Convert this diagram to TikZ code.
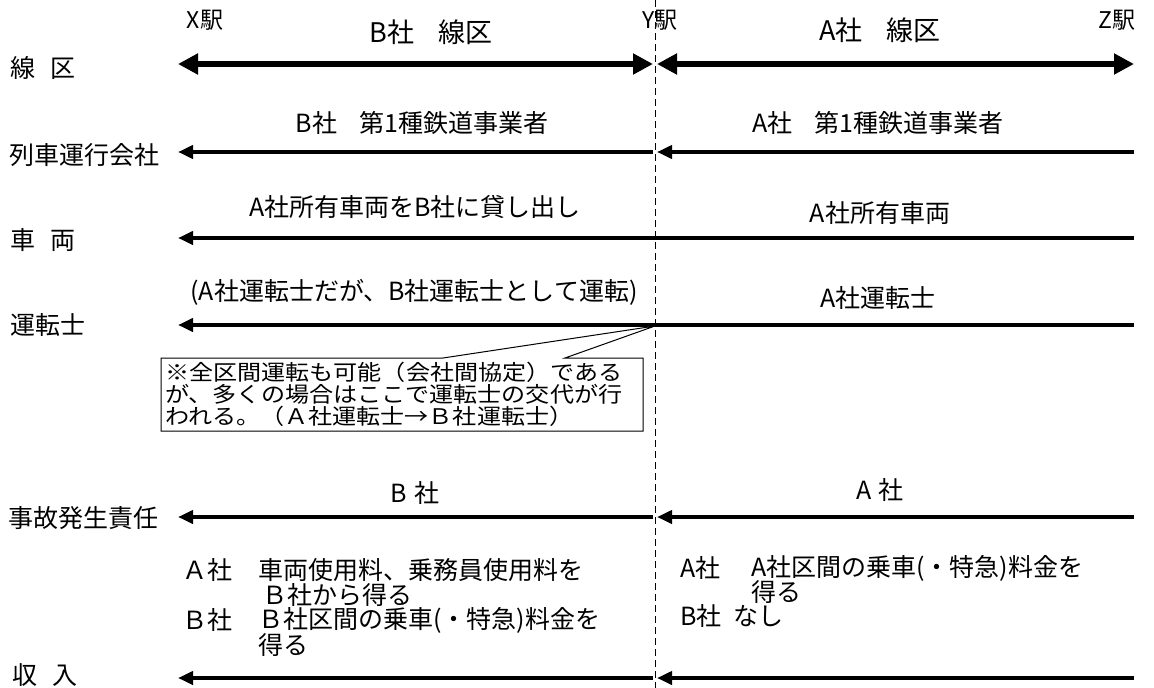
\documentclass[tikz,border=0pt]{standalone}
\usepackage{fontspec}
\setmainfont{Noto Sans CJK JP}
\newfontfamily\notefont[FakeStretch=1.12]{Noto Sans CJK JP}
\usetikzlibrary{arrows.meta}
\begin{document}
\begin{tikzpicture}[x=1pt,y=-1pt,
  lbl/.style={font=\fontsize{25}{26}\selectfont, inner sep=0pt},
  rowlbl/.style={lbl, anchor=west},
  bigarrow/.style={line width=6pt, {Triangle[length=20pt,width=20pt]}-{Triangle[length=20pt,width=20pt]}},
  arrowline/.style={line width=4pt, -{Triangle[length=15pt,width=13pt]}},
  sepline/.style={line width=0.8pt, dash pattern=on 7pt off 4pt},
  callout/.style={draw, fill=white, line width=1pt},
  notetext/.style={font=\notefont\fontsize{21.5}{22}\selectfont, inner sep=0pt, anchor=north west, align=left}]
\useasboundingbox (0,0) rectangle (1154,688);
% separator
\coordinate (sepT) at (655,0);
\coordinate (sepB) at (655,688);
\draw[sepline] (sepT) -- (sepB);
% endpoints
\foreach \n/\y in {a/64,b/152,c/238,d/325,e/517,f/678}{
  \coordinate (L\n) at (178,\y);
  \coordinate (ML\n) at (653,\y);
  \coordinate (MR\n) at (657,\y);
  \coordinate (R\n) at (1134,\y);
}
% station labels
\node[lbl, font=\fontsize{23}{25}\selectfont] (X) at (205,20) {X駅};
\node[lbl, font=\fontsize{23}{25}\selectfont, anchor=west] (Y) at (642,20) {Y駅};
\node[lbl, font=\fontsize{23}{25}\selectfont] (Z) at (1117,20) {Z駅};
\node[lbl, font=\fontsize{27}{29}\selectfont] (BL) at (431,32) {B社\hspace{0.9em}線区};
\node[lbl, font=\fontsize{27}{29}\selectfont] (AL) at (880,30) {A社\hspace{0.9em}線区};
% row labels
\node[rowlbl] (r1) at (10,68) {線\hspace{0.6em}区};
\node[rowlbl] (r2) at (9,155) {列車運行会社};
\node[rowlbl] (r3) at (10,240) {車\hspace{0.6em}両};
\node[rowlbl] (r4) at (10,325) {運転士};
\node[rowlbl] (r5) at (8,518) {事故発生責任};
\node[rowlbl] (r6) at (12,675) {収\hspace{0.6em}入};
% row 1
\draw[bigarrow] (La) -- (MLa);
\draw[bigarrow] (MRa) -- (Ra);
% row 2
\node[lbl] (t2l) at (422,123) {B社\hspace{0.9em}第1種鉄道事業者};
\node[lbl] (t2r) at (878,123) {A社\hspace{0.9em}第1種鉄道事業者};
\draw[arrowline] (MLb) -- (Lb);
\draw[arrowline] (Rb) -- (MRb);
% row 3
\node[lbl] (t3l) at (415,207) {A社所有車両をB社に貸し出し};
\node[lbl] (t3r) at (880,213) {A社所有車両};
\draw[arrowline] (Rc) -- (Lc);
% row 4
\node[lbl] (t4l) at (414,292) {(A社運転士だが、B社運転士として運転)};
\node[lbl] (t4r) at (878,298) {A社運転士};
\draw[arrowline] (Rd) -- (Ld);
% callout
\coordinate (tip) at (655,326);
\draw[callout] (161,358) -- (443,358) -- (tip) -- (565,358) -- (643,358) -- (643,431) -- (161,431) -- cycle;
\node[notetext] (note) at (165,362) {※全区間運転も可能（会社間協定）である\\が、多くの場合はここで運転士の交代が行\\われる。（Ａ社運転士→Ｂ社運転士）};
% row 5
\node[lbl] (t5l) at (415,493) {B\hspace{0.3em}社};
\node[lbl] (t5r) at (880,490) {A\hspace{0.3em}社};
\draw[arrowline] (MLe) -- (Le);
\draw[arrowline] (Re) -- (MRe);
% row 6 income texts
\node[lbl, anchor=west] (i1a) at (182,570) {Ａ社};
\node[lbl, anchor=west] (i1b) at (258,570) {車両使用料、乗務員使用料を};
\node[lbl, anchor=west] (i2b) at (262,595) {Ｂ社から得る};
\node[lbl, anchor=west] (i3a) at (182,620) {Ｂ社};
\node[lbl, anchor=west] (i3b) at (258,620) {Ｂ社区間の乗車(・特急)料金を};
\node[lbl, anchor=west] (i4b) at (258,645) {得る};
\node[lbl, anchor=west] (j1a) at (680,568) {A社};
\node[lbl, anchor=west] (j1b) at (751,568) {A社区間の乗車(・特急)料金を};
\node[lbl, anchor=west] (j2b) at (751,592) {得る};
\node[lbl, anchor=west] (j3a) at (680,616) {B社};
\node[lbl, anchor=west] (j3b) at (733,616) {なし};
\draw[arrowline] (MLf) -- (Lf);
\draw[arrowline] (Rf) -- (MRf);
\end{tikzpicture}
\end{document}
